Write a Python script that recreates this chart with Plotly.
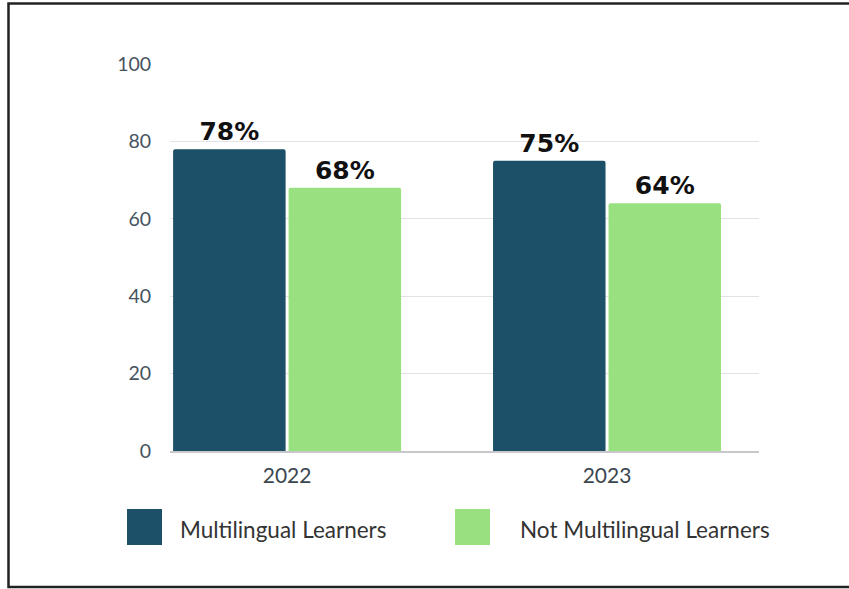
import plotly.graph_objects as go

# Chart data
years = ["2022", "2023"]
series_names = ["Multilingual Learners", "Not Multilingual Learners"]
multilingual = [78, 75]
not_multilingual = [68, 64]
y_ticks = [0, 20, 40, 60, 80, 100]

DARK = "#1b5068"
GREEN = "#98e080"
FONT = "Lato"

fig = go.Figure()
for name, vals, color in [
    (series_names[0], multilingual, DARK),
    (series_names[1], not_multilingual, GREEN),
]:
    fig.add_trace(go.Bar(
        x=years, y=vals, name=name,
        marker=dict(color=color, line=dict(width=0), cornerradius=2),
        text=[f"<b>{v}%</b>" for v in vals],
        textposition="outside",
        textfont=dict(family="DejaVu Sans", size=25, color="#111111"),
        cliponaxis=False,
        showlegend=False,
    ))

# Plot geometry in pixels, used to place the custom legend and frame
PL, PR, PT, PB = 170, 759, 64, 451
W, H = 849, 589


def px_x(x):
    return (x - PL) / (PR - PL)


def px_y(y):
    return (PB - y) / (PB - PT)


shapes = [
    # outer frame
    dict(type="rect", xref="paper", yref="paper",
         x0=px_x(8.5), x1=px_x(880), y0=px_y(3.5), y1=px_y(587),
         line=dict(color="#222222", width=2.5), fillcolor="rgba(0,0,0,0)",
         layer="below"),
]
annotations = []
legend_items = [(127, 178, series_names[0], DARK), (455, 518, series_names[1], GREEN)]
for x0, tx, label, color in legend_items:
    shapes.append(dict(type="rect", xref="paper", yref="paper",
                       x0=px_x(x0), x1=px_x(x0 + 35), y0=px_y(545), y1=px_y(509),
                       line=dict(width=0), fillcolor=color))
    annotations.append(dict(xref="paper", yref="paper", x=px_x(tx), y=px_y(529),
                            xanchor="left", yanchor="middle", showarrow=False,
                            text=label, font=dict(family=FONT, size=22.5, color="#333333")))

fig.update_layout(
    width=W, height=H,
    margin=dict(l=PL, r=W - PR, t=PT, b=H - PB),
    paper_bgcolor="white", plot_bgcolor="white",
    barmode="group", bargap=0.278, bargroupgap=0.026,
    shapes=shapes, annotations=annotations,
    font=dict(family=FONT),
)
fig.update_xaxes(
    type="category", range=[-0.366, 1.475],
    showgrid=False, showline=True, linecolor="#c8c8cc", linewidth=1.5,
    ticks="outside", ticklen=5, tickcolor="rgba(0,0,0,0)",
    tickfont=dict(family=FONT, size=21, color="#3c4650"),
)
fig.update_yaxes(
    range=[0, 100], tickvals=y_ticks,
    showgrid=True, gridcolor="#e3e3e6", gridwidth=1.2,
    zeroline=False, showline=False,
    ticks="outside", ticklen=14, tickcolor="rgba(0,0,0,0)",
    tickfont=dict(family=FONT, size=19.5, color="#46525e"),
)

fig.write_html("out.html")
